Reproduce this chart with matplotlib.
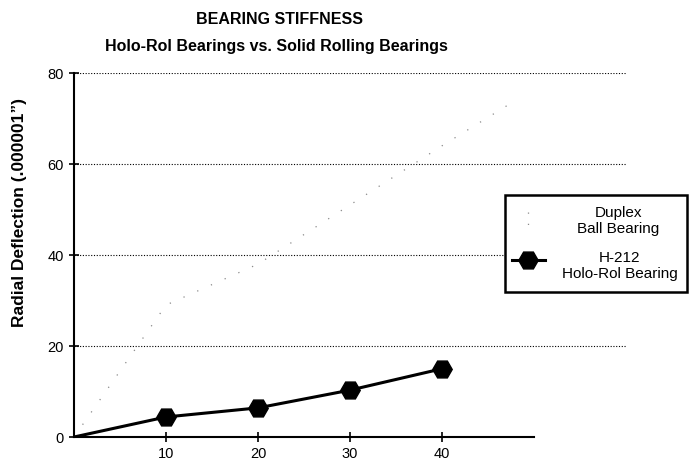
import matplotlib
matplotlib.use("Agg")
import matplotlib.pyplot as plt
from matplotlib.lines import Line2D
from matplotlib.patches import Rectangle

# Data
holo_x = [0, 10, 20, 30, 40]
holo_y = [0, 4.4, 6.4, 10.3, 15.0]
duplex_x = [0, 10, 20, 30, 40, 48]
duplex_y = [0, 29, 38, 51, 64, 74]
x_ticks = [10, 20, 30, 40]
y_ticks = [0, 20, 40, 60, 80]
title = "BEARING STIFFNESS"
subtitle = "Holo-Rol Bearings vs. Solid Rolling Bearings"
ylabel = "Radial Deflection (.000001\u201d)"
label_duplex = "Duplex\nBall Bearing"
label_holo = "H-212\nHolo-Rol Bearing"

plt.rcParams['font.family'] = ['Liberation Sans', 'DejaVu Sans']

W, H = 689, 461
fig = plt.figure(figsize=(W / 100, H / 100), dpi=100)
ax = fig.add_axes([74 / W, 1 - 437 / H, 552 / W, 364 / H])
ax.set_xlim(0, 60)
ax.set_ylim(0, 80)

for yv in y_ticks[1:]:
    ax.axhline(yv, color='black', lw=0.8, ls=(0, (1, 1.5)), zorder=1)

duplex_style = dict(color='#8a8a8a', lw=0.9, ls=(0, (1, 11)))
holo_style = dict(color='black', lw=2.2, marker='H', markersize=14)

ax.plot(duplex_x, duplex_y, zorder=2, **duplex_style)
ax.plot(holo_x, holo_y, markevery=[1, 2, 3, 4], zorder=3, **holo_style)

ax.spines['top'].set_visible(False)
ax.spines['right'].set_visible(False)
ax.spines['left'].set_linewidth(1.5)
ax.spines['bottom'].set_linewidth(1.5)
ax.spines['bottom'].set_bounds(0, 50)
ax.spines['left'].set_bounds(0, 80)

ax.set_xticks(x_ticks)
ax.set_yticks(y_ticks)
ax.tick_params(axis='both', direction='inout', length=7, width=1.2, labelsize=10.5)
ax.tick_params(axis='y', pad=4)

fig.text(20 / W, 1 - 212 / H, ylabel, rotation=90, ha='center', va='center',
         fontsize=12.5, fontweight='bold')

fig.text(280 / W, 1 - 19 / H, title, ha='center', va='center', fontsize=11.5,
         fontweight='bold')
fig.text(276 / W, 1 - 47 / H, subtitle, ha='center', va='center', fontsize=11.5,
         fontweight='bold')

# Legend box (drawn in figure pixels, above the axes)
fig.add_artist(Rectangle((505 / W, 1 - 292 / H), 182 / W, 97 / H,
                         transform=fig.transFigure, facecolor='white',
                         edgecolor='black', lw=1.8, zorder=5))
fig.add_artist(Line2D([512 / W, 528 / W, 545 / W], [1 - 260 / H] * 3,
                      transform=fig.transFigure, markevery=[1], zorder=6,
                      **holo_style))
fig.add_artist(Line2D([528 / W, 528 / W], [1 - 212 / H, 1 - 226 / H],
                      transform=fig.transFigure, zorder=6,
                      **dict(duplex_style, ls=(0, (1, 8)))))
fig.text(618 / W, 1 - 221 / H, label_duplex, ha='center', va='center',
         fontsize=11, multialignment='center', linespacing=1.25, zorder=7)
fig.text(620 / W, 1 - 266 / H, label_holo, ha='center', va='center',
         fontsize=11, multialignment='center', linespacing=1.25, zorder=7)

fig.savefig('out.png', dpi=100)
